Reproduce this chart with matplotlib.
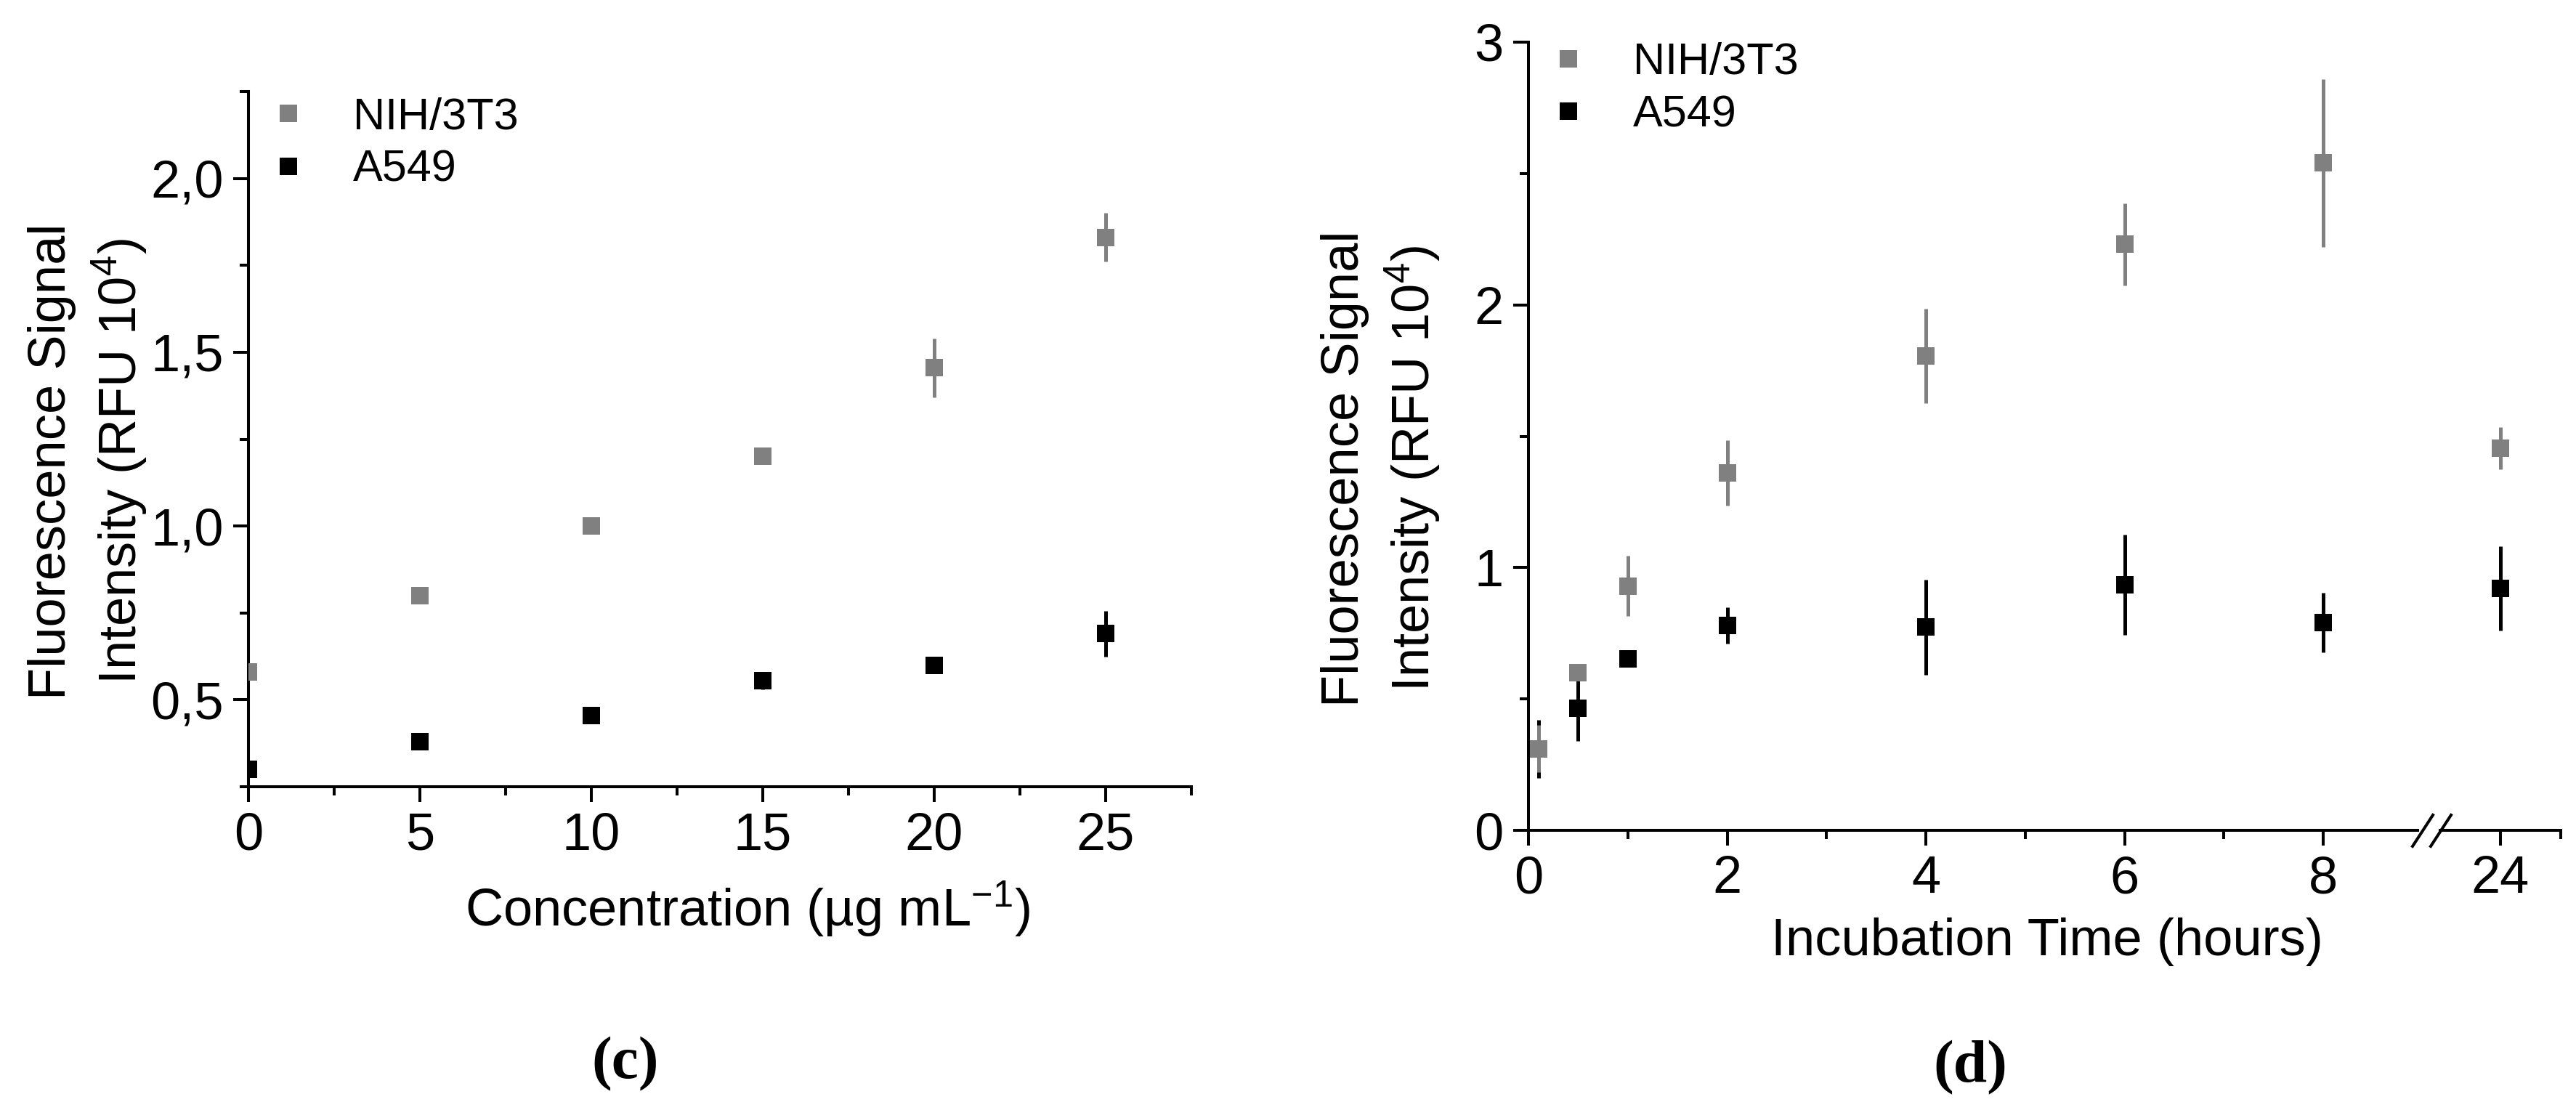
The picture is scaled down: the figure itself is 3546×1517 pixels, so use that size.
import numpy as np
import matplotlib
matplotlib.use("Agg")
import matplotlib.pyplot as plt
from matplotlib.ticker import MultipleLocator, FuncFormatter

plt.rcParams["font.family"] = ["Liberation Sans", "DejaVu Sans"]
plt.rcParams["mathtext.fontset"] = "custom"
plt.rcParams["mathtext.rm"] = "Liberation Sans"
plt.rcParams["mathtext.it"] = "Liberation Sans"

# (c) concentration series
conc = [0, 5, 10, 15, 20, 25]
conc_nih = [0.58, 0.80, 1.00, 1.20, 1.455, 1.83]
conc_nih_err = [0.01, 0.02, 0.015, 0.02, 0.085, 0.07]
conc_a549 = [0.30, 0.38, 0.455, 0.555, 0.60, 0.69]
conc_a549_err = [0.01, 0.015, 0.015, 0.025, 0.015, 0.065]

# (d) incubation time series
time_h = [0.1, 0.5, 1, 2, 4, 6, 8, 24]
time_nih = [0.31, 0.60, 0.93, 1.36, 1.805, 2.23, 2.54, 1.455]
time_nih_err = [0.09, 0.02, 0.115, 0.125, 0.18, 0.155, 0.32, 0.08]
time_a549 = [0.31, 0.465, 0.652, 0.78, 0.773, 0.935, 0.79, 0.92]
time_a549_err = [0.11, 0.125, 0.02, 0.07, 0.18, 0.19, 0.113, 0.16]

labels = ["NIH/3T3", "A549"]
GREY = "#808080"
BLACK = "#000000"

W, H = 3546, 1517
DPI = 200
FS = 26


def fx(px):
    return px / W


def fy(px):
    return (H - px) / H


def style_axis(ax):
    for s in ["top", "right"]:
        ax.spines[s].set_visible(False)
    for s in ["left", "bottom"]:
        ax.spines[s].set_linewidth(1.45)
    ax.tick_params(which="major", direction="out", length=7.4, width=1.45,
                   labelsize=FS, pad=5)
    ax.tick_params(which="minor", direction="out", length=4.2, width=1.45)


def draw_series(ax, x, y, err, color, z):
    return ax.errorbar(x, y, yerr=err, fmt="s", color=color, ms=8.6, mew=0,
                       elinewidth=1.8, capsize=4.6, capthick=1.8, zorder=z)


def add_legend(ax, handles, anchor):
    ax.legend(handles, labels, loc="upper left", bbox_to_anchor=anchor,
              frameon=False, fontsize=22, handlelength=1.0, handletextpad=0.95,
              labelspacing=0.25, borderaxespad=0, borderpad=0)


fig = plt.figure(figsize=(W / DPI, H / DPI), dpi=DPI)

# ---- panel (c)
ax1 = fig.add_axes([fx(342), fy(1083), fx(1640) - fx(342), fy(126) - fy(1083)])
style_axis(ax1)
a1 = draw_series(ax1, conc, conc_a549, conc_a549_err, BLACK, 3)
n1 = draw_series(ax1, conc, conc_nih, conc_nih_err, GREY, 4)
ax1.set_xlim(0, 27.5)
ax1.set_ylim(0.25, 2.25)
ax1.xaxis.set_major_locator(MultipleLocator(5))
ax1.xaxis.set_minor_locator(MultipleLocator(2.5))
ax1.yaxis.set_major_locator(MultipleLocator(0.5))
ax1.yaxis.set_minor_locator(MultipleLocator(0.25))
ax1.yaxis.set_major_formatter(FuncFormatter(lambda v, p: f"{v:.1f}".replace(".", ",")))
add_legend(ax1, [n1[0], a1[0]], (0.019, 0.992))

fig.text(fx(122), fy(635), "Fluorescence Signal\nIntensity (RFU 10$^{4}$)",
         rotation=90, ha="center", va="center", fontsize=FS, linespacing=1.3)
fig.text(fx(1029), fy(1252), "Concentration (µg mL$^{-1}$)",
         ha="center", va="center", fontsize=FS)
fig.text(fx(861), fy(1465), "(c)", ha="center", va="center", fontsize=30,
         family="Liberation Serif", weight="bold")

# ---- panel (d), broken x axis
t = np.array(time_h)
early = t <= 8
late = t > 8

ax2 = fig.add_axes([fx(2104), fy(1143), fx(3328) - fx(2104), fy(58) - fy(1143)])
ax3 = fig.add_axes([fx(3359), fy(1143), fx(3525) - fx(3359), fy(58) - fy(1143)],
                   sharey=ax2)
style_axis(ax2)
style_axis(ax3)
ax3.spines["left"].set_visible(False)
ax3.tick_params(axis="y", which="both", left=False, labelleft=False)

for ax, m in [(ax2, early), (ax3, late)]:
    a = draw_series(ax, t[m], np.array(time_a549)[m], np.array(time_a549_err)[m], BLACK, 3)
    n = draw_series(ax, t[m], np.array(time_nih)[m], np.array(time_nih_err)[m], GREY, 4)
    if ax is ax2:
        handles = [n[0], a[0]]

ax2.set_xlim(0, 8.95)
ax3.set_xlim(23.4, 24.6)
ax2.set_ylim(0, 3)
ax2.xaxis.set_major_locator(MultipleLocator(2))
ax2.set_xticks([1, 3, 5, 7], minor=True)
ax2.yaxis.set_major_locator(MultipleLocator(1))
ax2.yaxis.set_minor_locator(MultipleLocator(0.5))
ax3.set_xticks([24])
ax3.set_xticks([24.6], minor=True)
add_legend(ax2, handles, (0.02, 1.0))

# break marks on the x axis
for x0 in (3321, 3346):
    fig.add_artist(plt.Line2D([fx(x0), fx(x0 + 28)], [fy(1165), fy(1122)],
                              color="black", lw=1.45, transform=fig.transFigure))

fig.text(fx(1902), fy(645), "Fluorescence Signal\nIntensity (RFU 10$^{4}$)",
         rotation=90, ha="center", va="center", fontsize=FS, linespacing=1.3)
fig.text(fx(2818), fy(1296), "Incubation Time (hours)",
         ha="center", va="center", fontsize=FS)
fig.text(fx(2712), fy(1470), "(d)", ha="center", va="center", fontsize=30,
         family="Liberation Serif", weight="bold")

fig.savefig("out.png", dpi=DPI)
